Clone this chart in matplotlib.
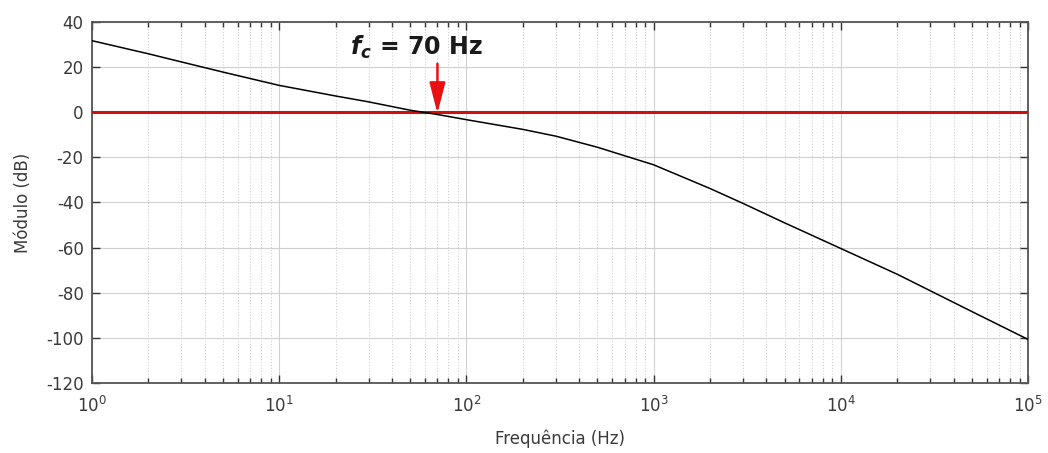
import numpy as np
from matplotlib import pyplot as plt
from matplotlib.ticker import LogLocator, NullFormatter, FixedLocator

plt.rcParams['axes.unicode_minus'] = False

# magnitude response
freq = [1, 2, 3, 5, 10, 20, 30, 50, 70, 100, 200, 300, 500, 1000,
        2000, 3000, 5000, 1e4, 2e4, 5e4, 1e5]
mag_db = [31.7, 25.9, 22.3, 17.8, 11.9, 7.2, 4.6, 0.9, -1.0, -3.3, -7.6, -10.6,
          -15.5, -23.3, -33.8, -40.4, -49.0, -60.4, -71.8, -88.3, -100.7]
zero_line = [0, 0]
fc = 70
label_x = 54
y_ticks = [40, 20, 0, -20, -40, -60, -80, -100, -120]

txt = '#3a3a3a'
fig = plt.figure(figsize=(10.48, 4.53), dpi=100)
ax = fig.add_axes([0.0878, 0.1545, 0.8932, 0.797])

ax.plot([1, 1e5], zero_line, color='#d01010', lw=2.2, zorder=3)
ax.plot(freq, mag_db, color='black', lw=1.1, zorder=4)

ax.set_xscale('log')
ax.set_xlim(1, 1e5)
ax.set_ylim(-120, 40)
ax.yaxis.set_major_locator(FixedLocator(y_ticks))
ax.xaxis.set_minor_locator(LogLocator(base=10, subs=np.arange(2, 10), numticks=20))
ax.xaxis.set_minor_formatter(NullFormatter())

ax.grid(True, which='major', color='#d0d0d0', lw=0.8, ls='-')
ax.grid(True, which='minor', axis='x', color='#d0d0d0', lw=0.8, ls=':')
ax.set_axisbelow(True)

ax.tick_params(which='both', direction='in', top=True, right=True,
               labelsize=12, labelcolor=txt, color='#333333')
ax.tick_params(which='major', length=6, width=1)
ax.tick_params(axis='x', which='major', pad=9)
ax.tick_params(axis='y', which='major', pad=6)
ax.tick_params(which='minor', length=3.5, width=1)
for s in ax.spines.values():
    s.set_color('#555555')
    s.set_linewidth(1.3)

ax.set_xlabel('Frequência (Hz)', fontsize=12, color=txt, labelpad=10)
ax.set_ylabel('Módulo (dB)', fontsize=12, color=txt, labelpad=10)

# cutoff annotation
ax.annotate('', xy=(fc, -0.5), xytext=(fc, 21.5),
            arrowprops=dict(arrowstyle='-|>,head_length=0.85,head_width=0.22',
                            mutation_scale=22, color='#e81010', lw=1.8,
                            shrinkA=0, shrinkB=0),
            zorder=5)
ax.text(label_x, 25.5, r'$\mathbfit{f}_{\mathbfit{c}}$' + ' = 70 Hz', fontsize=17,
        fontweight='bold', color='#1a1a1a', ha='center', va='baseline')

fig.savefig('out.png', dpi=100)
